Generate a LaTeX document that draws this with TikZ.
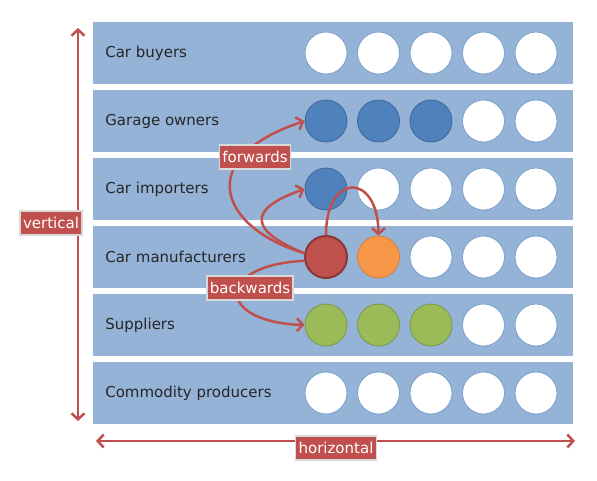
\documentclass[tikz,border=0pt]{standalone}
\usepackage{fontspec}
\setmainfont{DejaVu Sans}
\usetikzlibrary{arrows.meta}
\definecolor{bandblue}{HTML}{95B3D7}
\definecolor{ringblue}{HTML}{7A9ECC}
\definecolor{accblue}{HTML}{4F81BD}
\definecolor{accred}{HTML}{C0504D}
\definecolor{accorange}{HTML}{F79646}
\definecolor{accgreen}{HTML}{9BBB59}

\begin{document}
\begin{tikzpicture}[x=1pt,y=-1pt,
  band/.style={fill=bandblue, minimum width=480pt, minimum height=62pt, inner sep=0pt},
  dot/.style={circle, minimum size=42pt, inner sep=0pt, draw=ringblue, line width=0.8pt, fill=white},
  open/.style={},
  fwd/.style={fill=accblue, draw=accblue!80!black},
  src/.style={fill=accred, draw=accred!70!black, line width=2pt},
  horiz/.style={fill=accorange, draw=accorange!85!black},
  bwd/.style={fill=accgreen, draw=accgreen!80!black},
  tag/.style={fill=accred, text=white, draw=gray!30, line width=1.5pt,
    inner xsep=3pt, minimum height=24pt, font=\fontsize{15}{15}\selectfont},
  flow/.style={draw=accred, line width=2.5pt, -{Straight Barb[length=6pt,width=13pt]}},
  axis/.style={draw=accred, line width=2.5pt, {Straight Barb[length=6pt,width=13pt]}-{Straight Barb[length=6pt,width=13pt]}},
]
\useasboundingbox (0,0) rectangle (597,480);

% rows with their circles
\foreach \name/\fills [count=\i] in {
  Car buyers/{open,open,open,open,open},
  Garage owners/{fwd,fwd,fwd,open,open},
  Car importers/{fwd,open,open,open,open},
  Car manufacturers/{src,horiz,open,open,open},
  Suppliers/{bwd,bwd,bwd,open,open},
  Commodity producers/{open,open,open,open,open}} {
  \node[band] (row\i) at (333,{53+68*(\i-1)}) {};
  \node[anchor=west, text=black!85, font=\fontsize{15}{15}\selectfont] (name\i) at ([xshift=9pt]row\i.west) {\name};
  \foreach \f [count=\j] in \fills
    \node[dot,\f] (d\i-\j) at ({326+52.5*(\j-1)},{53+68*(\i-1)}) {};
}

% moves
\draw[flow] (d4-1.170) .. controls (222,229) and (190,159) .. (d2-1.west);
\draw[flow] (d4-1.170) .. controls (252,232) and (244,210) .. (d3-1.west);
\draw[flow] (d4-1.north) .. controls (326,172) and (378,172) .. (d4-2.north);
\draw[flow] (d4-1.190) .. controls (215,265) and (215,322) .. (d5-1.west);

\node[tag] (forwards) at (255,157) {forwards};
\node[tag] (backwards) at (250,288) {backwards};

% axes
\coordinate (vtop) at (78,28);
\coordinate (vbot) at (78,421);
\coordinate (hleft) at (96,441);
\coordinate (hright) at (575,441);
\draw[axis] (vtop) -- (vbot);
\draw[axis] (hleft) -- (hright);
\node[tag] (vertical) at (51,223) {vertical};
\node[tag] (horizontal) at (336,448) {horizontal};
\end{tikzpicture}
\end{document}
